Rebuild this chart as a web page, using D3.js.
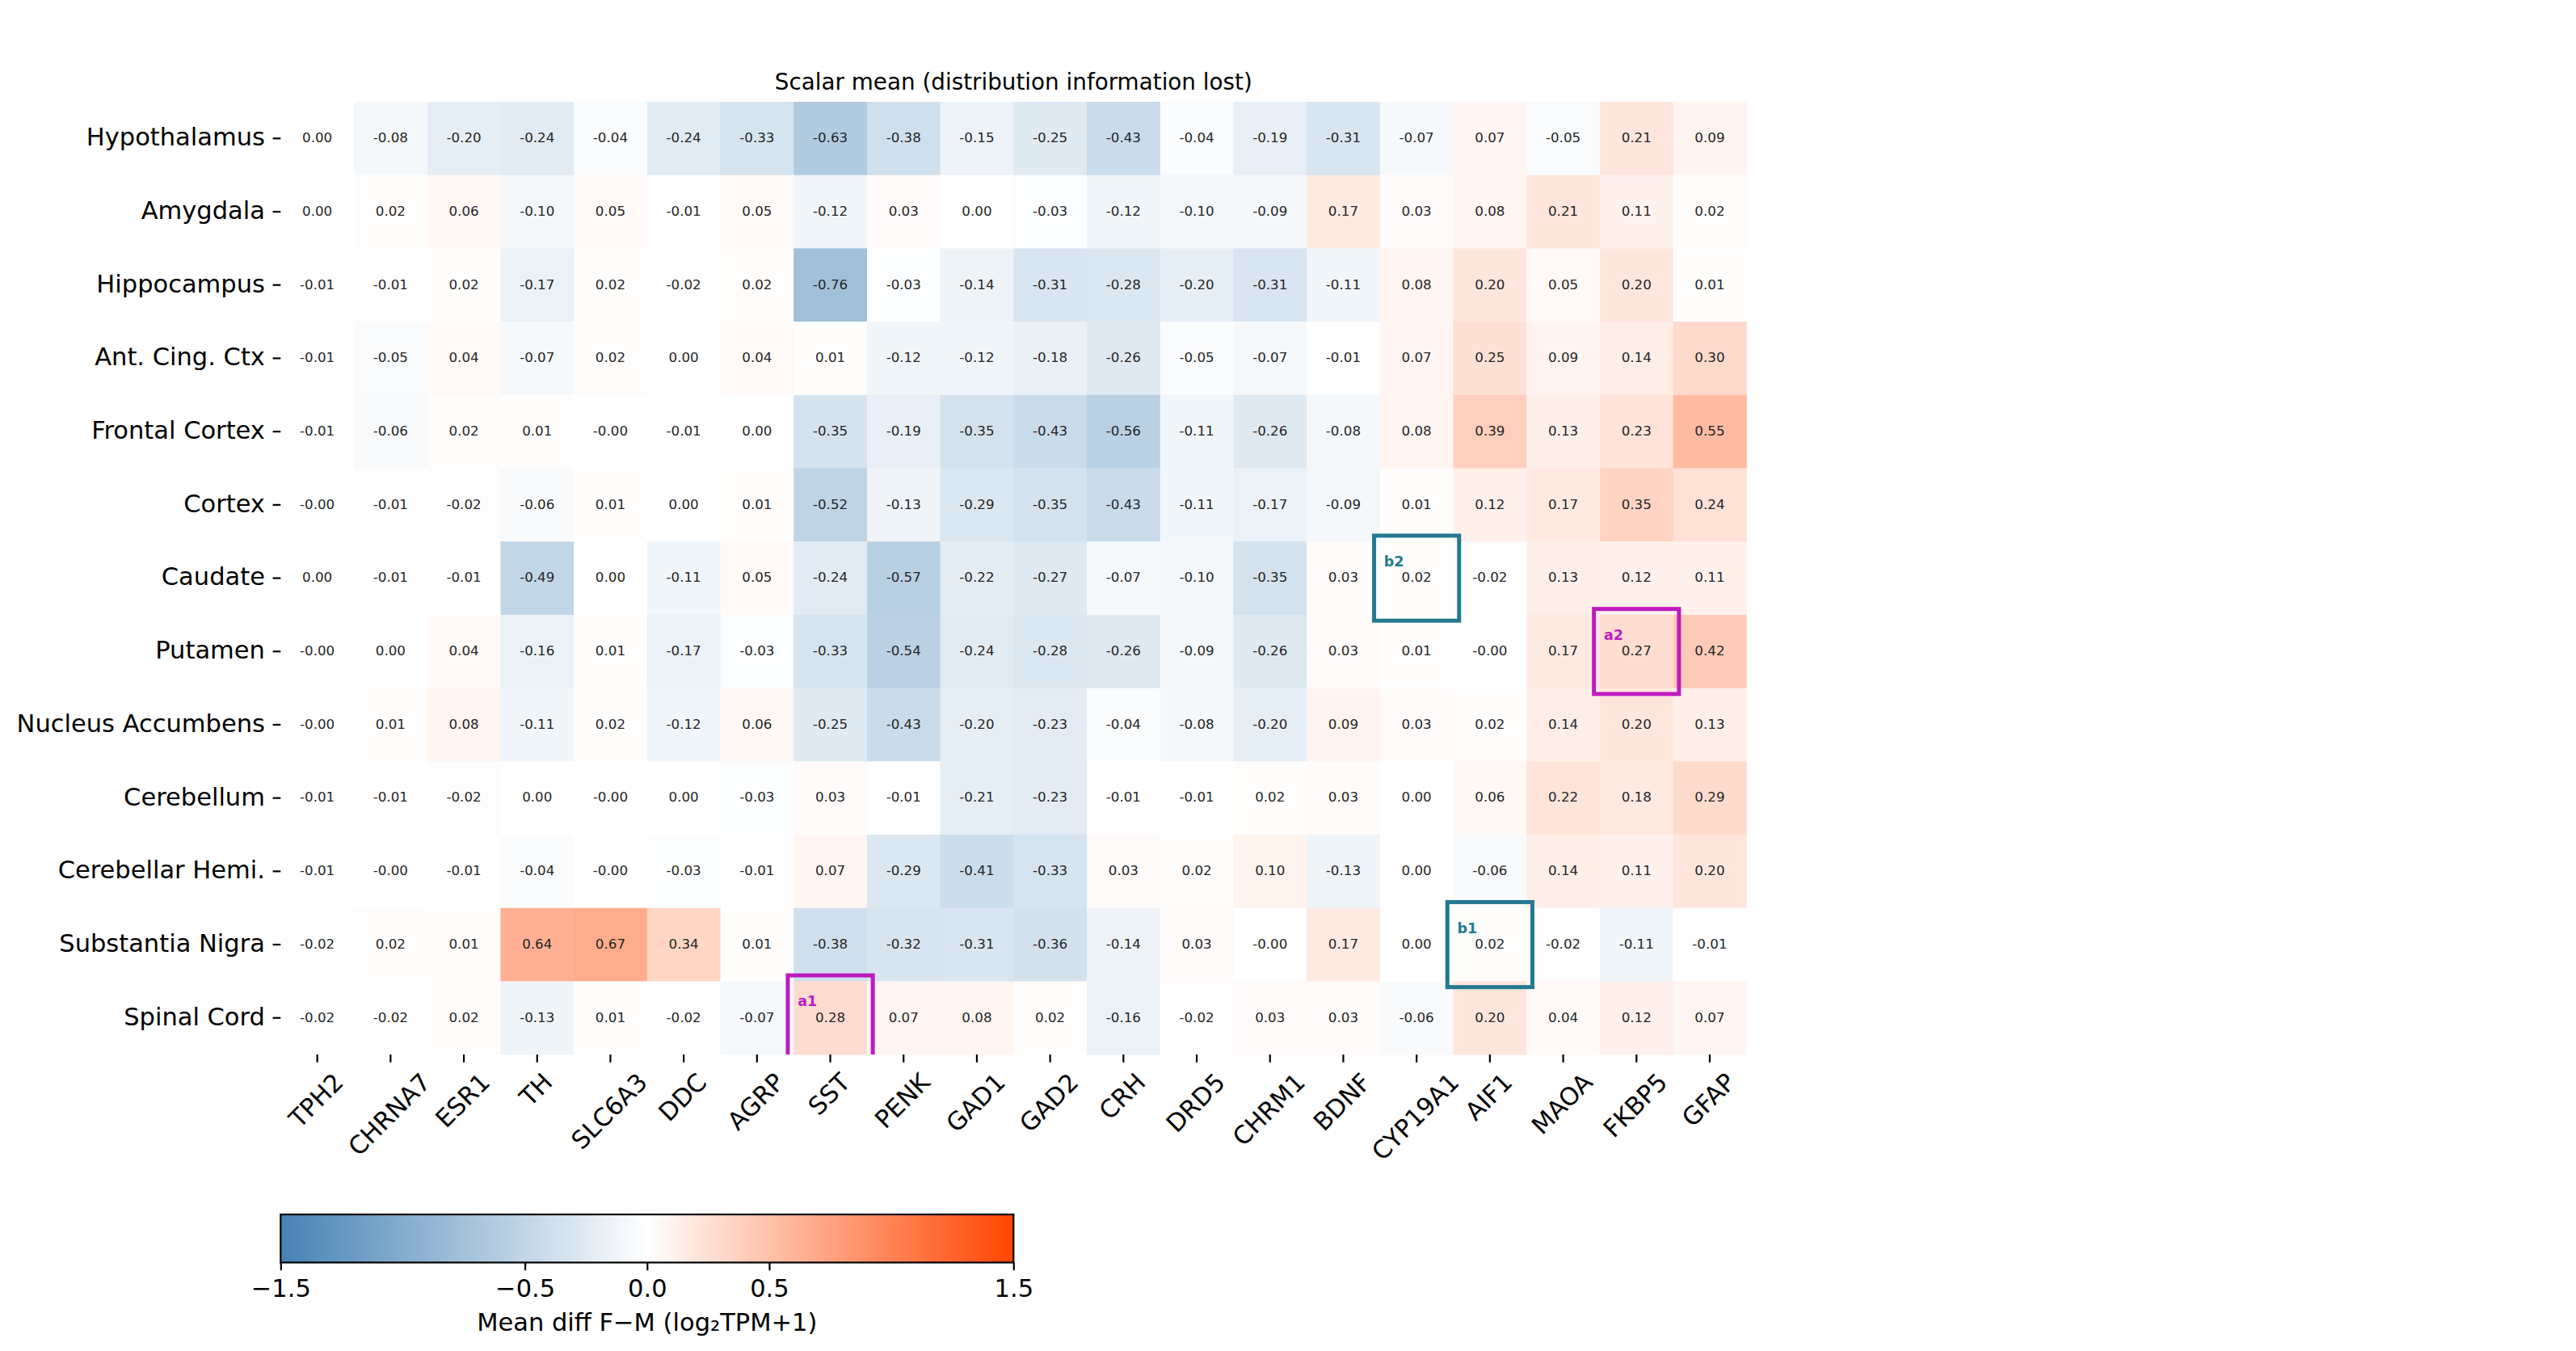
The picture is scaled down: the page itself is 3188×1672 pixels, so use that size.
<!DOCTYPE html>
<html>
<head>
<meta charset="utf-8">
<script src="https://cdn.jsdelivr.net/npm/d3@7"></script>
<style>
  html, body { margin: 0; padding: 0; background: #fff; }
  svg { display: block; font-family: "DejaVu Sans", sans-serif; }
</style>
</head>
<body>
<svg id="chart" width="3188" height="1672"></svg>
<script>
// ---------------- data ----------------
const genes = ["TPH2","CHRNA7","ESR1","TH","SLC6A3","DDC","AGRP","SST","PENK","GAD1",
               "GAD2","CRH","DRD5","CHRM1","BDNF","CYP19A1","AIF1","MAOA","FKBP5","GFAP"];
const regions = ["Hypothalamus","Amygdala","Hippocampus","Ant. Cing. Ctx","Frontal Cortex","Cortex",
                 "Caudate","Putamen","Nucleus Accumbens","Cerebellum","Cerebellar Hemi.",
                 "Substantia Nigra","Spinal Cord"];

const hypothalamus   = [0.00,-0.08,-0.20,-0.24,-0.04,-0.24,-0.33,-0.63,-0.38,-0.15,-0.25,-0.43,-0.04,-0.19,-0.31,-0.07, 0.07,-0.05, 0.21, 0.09];
const amygdala       = [0.00, 0.02, 0.06,-0.10, 0.05,-0.01, 0.05,-0.12, 0.03, 0.00,-0.03,-0.12,-0.10,-0.09, 0.17, 0.03, 0.08, 0.21, 0.11, 0.02];
const hippocampus    = [-0.01,-0.01,0.02,-0.17, 0.02,-0.02, 0.02,-0.76,-0.03,-0.14,-0.31,-0.28,-0.20,-0.31,-0.11, 0.08, 0.20, 0.05, 0.20, 0.01];
const antCingCtx     = [-0.01,-0.05,0.04,-0.07, 0.02, 0.00, 0.04, 0.01,-0.12,-0.12,-0.18,-0.26,-0.05,-0.07,-0.01, 0.07, 0.25, 0.09, 0.14, 0.30];
const frontalCortex  = [-0.01,-0.06,0.02, 0.01,-0.00,-0.01, 0.00,-0.35,-0.19,-0.35,-0.43,-0.56,-0.11,-0.26,-0.08, 0.08, 0.39, 0.13, 0.23, 0.55];
const cortex         = [-0.00,-0.01,-0.02,-0.06,0.01, 0.00, 0.01,-0.52,-0.13,-0.29,-0.35,-0.43,-0.11,-0.17,-0.09, 0.01, 0.12, 0.17, 0.35, 0.24];
const caudate        = [0.00,-0.01,-0.01,-0.49, 0.00,-0.11, 0.05,-0.24,-0.57,-0.22,-0.27,-0.07,-0.10,-0.35, 0.03, 0.02,-0.02, 0.13, 0.12, 0.11];
const putamen        = [-0.00,0.00, 0.04,-0.16, 0.01,-0.17,-0.03,-0.33,-0.54,-0.24,-0.28,-0.26,-0.09,-0.26, 0.03, 0.01,-0.00, 0.17, 0.27, 0.42];
const nucAccumbens   = [-0.00,0.01, 0.08,-0.11, 0.02,-0.12, 0.06,-0.25,-0.43,-0.20,-0.23,-0.04,-0.08,-0.20, 0.09, 0.03, 0.02, 0.14, 0.20, 0.13];
const cerebellum     = [-0.01,-0.01,-0.02,0.00,-0.00, 0.00,-0.03, 0.03,-0.01,-0.21,-0.23,-0.01,-0.01, 0.02, 0.03, 0.00, 0.06, 0.22, 0.18, 0.29];
const cerebellarHemi = [-0.01,-0.00,-0.01,-0.04,-0.00,-0.03,-0.01,0.07,-0.29,-0.41,-0.33, 0.03, 0.02, 0.10,-0.13, 0.00,-0.06, 0.14, 0.11, 0.20];
const substNigra     = [-0.02,0.02, 0.01, 0.64, 0.67, 0.34, 0.01,-0.38,-0.32,-0.31,-0.36,-0.14, 0.03,-0.00, 0.17, 0.00, 0.02,-0.02,-0.11,-0.01];
const spinalCord     = [-0.02,-0.02,0.02,-0.13, 0.01,-0.02,-0.07, 0.28, 0.07, 0.08, 0.02,-0.16,-0.02, 0.03, 0.03,-0.06, 0.20, 0.04, 0.12, 0.07];

const matrix = [hypothalamus, amygdala, hippocampus, antCingCtx, frontalCortex, cortex, caudate,
                putamen, nucAccumbens, cerebellum, cerebellarHemi, substNigra, spinalCord];

// highlighted cells
const annoLabels  = ["a1","a2","b1","b2"];
const annoRegions = ["Spinal Cord","Putamen","Substantia Nigra","Caudate"];
const annoGenes   = ["SST","FKBP5","AIF1","CYP19A1"];

const colorTicks = [-1.5,-0.5,0.0,0.5,1.5];
const colorDomain = [-1.5, 0, 1.5];
const titleText = "Scalar mean (distribution information lost)";
const cbarLabel = "Mean diff F\u2212M (log\u2082TPM+1)";

// ---------------- layout ----------------
const svg = d3.select("#chart");
const L = 347.3, T = 126, CW = 90.7;
const R = L + genes.length * CW, B = T + regions.length * CW;
const tickLen = 9.7, tickPad = 9.7, lw = 2.2;
const FS = 30.5;

const x = d3.scaleBand().domain(genes).range([L, R]).padding(0);
const y = d3.scaleBand().domain(regions).range([T, B]).padding(0);
const color = d3.scaleLinear().domain(colorDomain).range(["steelblue","white","orangered"]).clamp(true);
const fmtCell = v => (Object.is(v, -0) ? "-" : "") + v.toFixed(2);

const cells = [];
matrix.forEach((row, i) => row.forEach((v, j) => cells.push({r: regions[i], g: genes[j], v})));

// cells
svg.append("g").selectAll("rect").data(cells).join("rect")
  .attr("x", d => x(d.g)).attr("y", d => y(d.r))
  .attr("width", x.bandwidth() + 0.5).attr("height", y.bandwidth() + 0.5)
  .attr("fill", d => color(d.v));

// cell values
svg.append("g").selectAll("text").data(cells).join("text")
  .attr("x", d => x(d.g) + x.bandwidth() / 2)
  .attr("y", d => y(d.r) + y.bandwidth() / 2)
  .attr("dy", "0.29em")
  .attr("text-anchor", "middle")
  .attr("font-size", 16.7)
  .attr("fill", "#262626")
  .text(d => fmtCell(d.v));

// annotation boxes (clipped to heatmap)
svg.append("clipPath").attr("id", "hmclip")
  .append("rect").attr("x", L).attr("y", T).attr("width", R - L).attr("height", B - T);
const annoColor = lab => lab[0] === "a" ? "#bf1bbf" : "#237990";
const ext = 0.08 * CW;
const annos = annoLabels.map((lab, k) => ({lab, r: annoRegions[k], g: annoGenes[k]}));
const ag = svg.append("g").attr("clip-path", "url(#hmclip)");
ag.selectAll("rect").data(annos).join("rect")
  .attr("x", d => x(d.g) - ext).attr("y", d => y(d.r) - ext)
  .attr("width", x.bandwidth() + 2 * ext).attr("height", y.bandwidth() + 2 * ext)
  .attr("fill", "none").attr("stroke", d => annoColor(d.lab)).attr("stroke-width", 5);
ag.selectAll("text").data(annos).join("text")
  .attr("x", d => x(d.g) + 5).attr("y", d => y(d.r) + 31)
  .attr("font-size", 17.5).attr("font-weight", "bold")
  .attr("fill", d => annoColor(d.lab))
  .text(d => d.lab);

// y axis
const yAxis = svg.append("g").attr("transform", `translate(${L},0)`)
  .call(d3.axisLeft(y).tickSize(tickLen).tickPadding(tickPad));
yAxis.select(".domain").remove();
yAxis.selectAll(".tick line").attr("stroke", "#000").attr("stroke-width", lw);
yAxis.selectAll(".tick text").attr("font-size", FS).attr("fill", "#000")
  .attr("font-family", "DejaVu Sans").attr("dy", "0.29em");

// x axis
const xAxis = svg.append("g").attr("transform", `translate(0,${B})`)
  .call(d3.axisBottom(x).tickSize(tickLen).tickPadding(tickPad));
xAxis.select(".domain").remove();
xAxis.selectAll(".tick line").attr("stroke", "#000").attr("stroke-width", lw);
xAxis.selectAll(".tick text")
  .attr("font-size", FS).attr("fill", "#000").attr("font-family", "DejaVu Sans")
  .attr("text-anchor", "middle").attr("dy", "0.28em").attr("y", 0)
  .each(function () {
    const w = this.getComputedTextLength();
    const h = FS;
    const cy = tickLen + tickPad + (w + h) / (2 * Math.SQRT2);
    d3.select(this).attr("transform", `translate(0,${cy}) rotate(-45)`);
  });

// title
svg.append("text")
  .attr("x", (L + R) / 2).attr("y", 110.7)
  .attr("text-anchor", "middle").attr("font-size", 27.8).attr("fill", "#000")
  .text(titleText);

// colorbar
const cbL = L, cbR = L + (R - L) / 2, cbT = 1503, cbB = 1562.5;
const cx = d3.scaleLinear().domain([colorDomain[0], colorDomain[2]]).range([cbL, cbR]);
const grad = svg.append("defs").append("linearGradient").attr("id", "cbgrad")
  .attr("x1", "0%").attr("x2", "100%").attr("y1", "0%").attr("y2", "0%");
d3.range(0, 1.0001, 0.05).forEach(t => {
  grad.append("stop").attr("offset", (t * 100) + "%")
    .attr("stop-color", color(colorDomain[0] + t * (colorDomain[2] - colorDomain[0])));
});
svg.append("rect").attr("x", cbL).attr("y", cbT).attr("width", cbR - cbL).attr("height", cbB - cbT)
  .attr("fill", "url(#cbgrad)");
svg.append("rect").attr("x", cbL).attr("y", cbT).attr("width", cbR - cbL).attr("height", cbB - cbT)
  .attr("fill", "none").attr("stroke", "#000").attr("stroke-width", lw);
const cAxis = svg.append("g").attr("transform", `translate(0,${cbB})`)
  .call(d3.axisBottom(cx).tickValues(colorTicks).tickFormat(d3.format(".1f"))
        .tickSize(tickLen).tickPadding(tickPad));
cAxis.select(".domain").remove();
cAxis.selectAll(".tick line").attr("stroke", "#000").attr("stroke-width", lw);
cAxis.selectAll(".tick text").attr("font-size", FS).attr("fill", "#000")
  .attr("font-family", "DejaVu Sans").attr("dy", null).attr("y", 1605 - cbB);
svg.append("text")
  .attr("x", (cbL + cbR) / 2).attr("y", 1646.7)
  .attr("text-anchor", "middle").attr("font-size", FS).attr("fill", "#000")
  .text(cbarLabel);
</script>
</body>
</html>
